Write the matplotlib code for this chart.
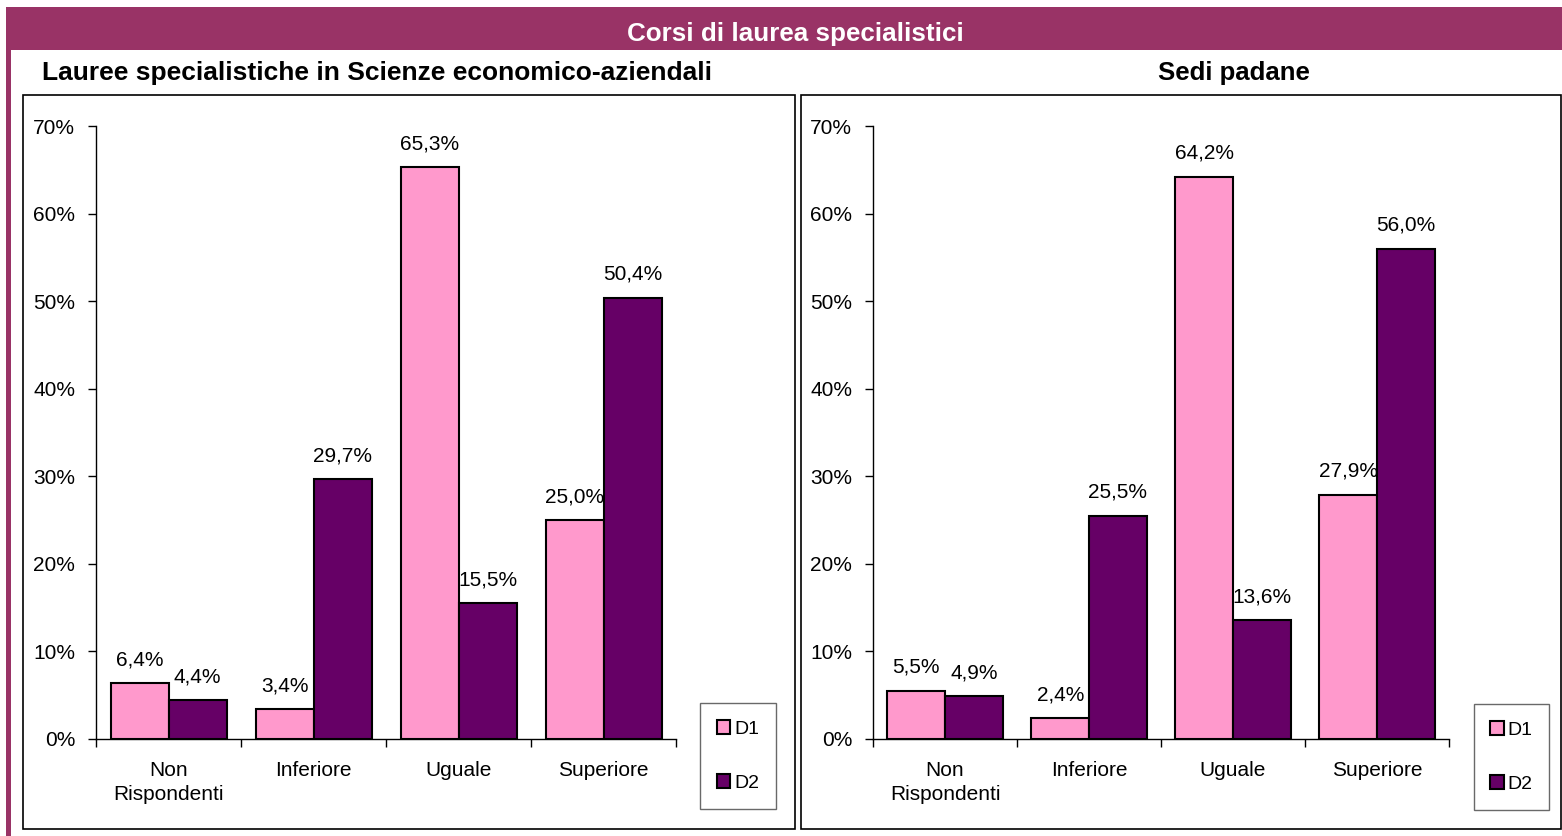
import matplotlib
matplotlib.use("Agg")
import matplotlib.pyplot as plt
from matplotlib.patches import Rectangle, Patch
import numpy as np

categories = ["Non\nRispondenti", "Inferiore", "Uguale", "Superiore"]
series_names = ["D1", "D2"]
left_d1 = [6.4, 3.4, 65.3, 25.0]
left_d2 = [4.4, 29.7, 15.5, 50.4]
right_d1 = [5.5, 2.4, 64.2, 27.9]
right_d2 = [4.9, 25.5, 13.6, 56.0]
yticks = [0, 10, 20, 30, 40, 50, 60, 70]

main_title = "Corsi di laurea specialistici"
left_title = "Lauree specialistiche in Scienze economico-aziendali"
right_title = "Sedi padane"

PINK = "#FF99CC"
PLUM = "#660066"
BAND = "#993366"

plt.rcParams["font.family"] = ["Liberation Sans", "DejaVu Sans"]

W, H = 1562, 836
fig = plt.figure(figsize=(W / 100, H / 100), dpi=100)


def fx(px):
    return px / W


def fy(py):
    return 1 - py / H


# purple title band + left strip
fig.patches.append(Rectangle((fx(6), fy(50)), fx(W - 6), 43 / H, transform=fig.transFigure,
                             facecolor=BAND, edgecolor="none"))
fig.patches.append(Rectangle((fx(6), 0), fx(5), fy(50), transform=fig.transFigure,
                             facecolor=BAND, edgecolor="none"))
fig.text(fx(795), fy(41), main_title, color="white", fontsize=18.7, fontweight="bold",
         ha="center", va="baseline")

# panel frames
for x0, x1 in [(23, 795), (801, 1561)]:
    fig.patches.append(Rectangle((fx(x0), fy(829)), fx(x1 - x0), (829 - 95) / H,
                                 transform=fig.transFigure, facecolor="none",
                                 edgecolor="black", linewidth=1.2))

fig.text(fx(42), fy(80), left_title, fontsize=19, fontweight="bold", ha="left", va="baseline")
fig.text(fx(1234), fy(80), right_title, fontsize=18.5, fontweight="bold", ha="center",
         va="baseline")


def draw_panel(left_px, right_px, d1, d2, legend_box):
    ax = fig.add_axes([fx(left_px), fy(739), fx(right_px - left_px), (739 - 126) / H])
    x = np.arange(len(categories))
    w = 0.4
    b1 = ax.bar(x - w / 2, d1, w, color=PINK, edgecolor="black", linewidth=1.5)
    b2 = ax.bar(x + w / 2, d2, w, color=PLUM, edgecolor="black", linewidth=1.5)
    for bars, vals in [(b1, d1), (b2, d2)]:
        for r, v in zip(bars, vals):
            ax.annotate(f"{v:.1f}%".replace(".", ","), (r.get_x() + r.get_width() / 2, v),
                        xytext=(0, 10), textcoords="offset points", ha="center", va="bottom",
                        fontsize=15)
    ax.set_xlim(-0.5, len(categories) - 0.5)
    ax.set_ylim(0, 70)
    ax.set_yticks(yticks)
    ax.set_yticklabels([f"{t}%" for t in yticks])
    ax.set_xticks(np.arange(len(categories) + 1) - 0.5)
    ax.set_xticklabels([])
    ax.set_xticks(x, minor=True)
    ax.set_xticklabels(categories, minor=True, linespacing=1.3)
    ax.tick_params(axis="x", which="major", direction="out", length=6, width=1)
    ax.tick_params(axis="x", which="minor", length=0, pad=16, labelsize=15)
    ax.tick_params(axis="y", direction="out", length=6, width=1, labelsize=15, pad=9)
    for s in ["top", "right"]:
        ax.spines[s].set_visible(False)
    for s in ["left", "bottom"]:
        ax.spines[s].set_linewidth(1)
    ax.patch.set_alpha(0)

    bx0, by0, bx1, by1 = legend_box
    handles = [Patch(facecolor=PINK, edgecolor="black", linewidth=1.5),
               Patch(facecolor=PLUM, edgecolor="black", linewidth=1.5)]
    leg = ax.legend(handles, series_names, loc="center",
                    bbox_to_anchor=(fx(bx0), fy(by1), fx(bx1 - bx0), (by1 - by0) / H),
                    bbox_transform=fig.transFigure, fontsize=14, frameon=True, fancybox=False,
                    handlelength=0.7, handleheight=0.7, handletextpad=0.2,
                    labelspacing=1.9, borderpad=0.85, borderaxespad=0)
    leg.get_frame().set_edgecolor("#444444")
    leg.get_frame().set_linewidth(1)
    return ax


draw_panel(96, 676, left_d1, left_d2, (698, 705, 778, 807))
draw_panel(873, 1449, right_d1, right_d2, (1472, 706, 1551, 808))

fig.savefig("out.png", dpi=100)
